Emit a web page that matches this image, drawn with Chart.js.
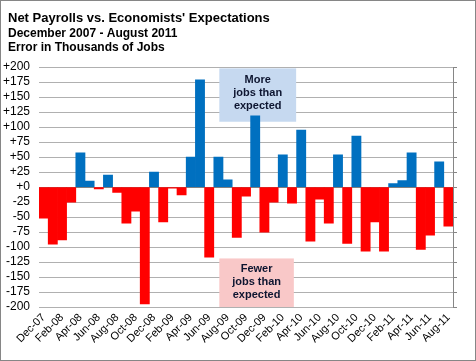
<!DOCTYPE html>
<html><head><meta charset="utf-8">
<script src="https://cdn.jsdelivr.net/npm/chart.js@4.4.1/dist/chart.umd.min.js"></script>
<style>html,body{margin:0;padding:0;background:#fff}#wrap{width:476px;height:361px;position:relative}</style>
</head><body><div id="wrap"><canvas id="c" width="476" height="361"></canvas></div>
<script>
const months = ["Dec-07","Jan-08","Feb-08","Mar-08","Apr-08","May-08","Jun-08","Jul-08","Aug-08","Sep-08","Oct-08","Nov-08",
"Dec-08","Jan-09","Feb-09","Mar-09","Apr-09","May-09","Jun-09","Jul-09","Aug-09","Sep-09","Oct-09","Nov-09",
"Dec-09","Jan-10","Feb-10","Mar-10","Apr-10","May-10","Jun-10","Jul-10","Aug-10","Sep-10","Oct-10","Nov-10",
"Dec-10","Jan-11","Feb-11","Mar-11","Apr-11","May-11","Jun-11","Jul-11","Aug-11"];
const errors = [-52,-95,-88,-25,57,10,-3,20,-9,-60,-40,-195,
25,-58,-2,-13,50,179,-117,50,12,-84,-15,119,
-75,-25,54,-27,95,-90,-20,-60,54,-94,85,-107,
-58,-107,6,11,57,-104,-80,42,-65];
const yTicks = {min:-200, max:200, step:25};
const titleText = "Net Payrolls vs. Economists' Expectations";
const subtitleLines = ["December 2007 - August 2011","Error in Thousands of Jobs"];
const noteMore = ["More","jobs than","expected"];
const noteFewer = ["Fewer","jobs than","expected"];
// annotation boxes in data space: [xFrom, xTo, yFrom, yTo]
const boxMore = [19.1, 27.45, 198, 109];
const boxFewer = [19.1, 27.2, -119, -200];

const FONT = "'Liberation Sans', Arial, sans-serif";
const BLUE = '#0070C0', RED = '#FF0000';

const boxesPlugin = {
  id: 'boxes',
  afterLayout(chart) {
    chart.boxes.forEach(b => {
      if (b.position === 'top' && b.options && b.options.text !== undefined) b.left += 8;
    });
  },
  beforeDraw(chart) {
    const ctx = chart.ctx;
    ctx.save();
    ctx.fillStyle = '#fff';
    ctx.fillRect(0,0,chart.width,chart.height);
    ctx.restore();
  },
  beforeDatasetsDraw(chart) {
    const ctx = chart.ctx, xs = chart.scales.x, ys = chart.scales.y;
    ctx.save();
    const draw = (b, fill, lines, off) => {
      const x1 = xs.getPixelForValue(b[0]), x2 = xs.getPixelForValue(b[1]);
      const y1 = ys.getPixelForValue(b[2]), y2 = ys.getPixelForValue(b[3]);
      ctx.fillStyle = fill;
      ctx.fillRect(x1, y1, x2 - x1, y2 - y1);
      ctx.fillStyle = '#0d1530';
      ctx.font = 'bold 11px ' + FONT;
      ctx.textAlign = 'center';
      ctx.textBaseline = 'middle';
      const cx = (x1 + x2) / 2, cy = (y1 + y2) / 2 + off;
      const lh = 13;
      lines.forEach((t, i) => ctx.fillText(t, cx, cy + (i - 1) * lh));
    };
    draw(boxMore, '#C6D9F0', noteMore, -2);
    draw(boxFewer, '#F9C8C8', noteFewer, -1);
    ctx.restore();
  },
  afterDraw(chart) {
    const ctx = chart.ctx;
    ctx.save();
    ctx.strokeStyle = '#868686';
    ctx.lineWidth = 1;
    ctx.strokeRect(0.5, 0.5, chart.width - 1, chart.height - 1);
    ctx.restore();
  }
};

new Chart(document.getElementById('c'), {
  type: 'bar',
  data: {
    labels: months,
    datasets: [{
      data: errors,
      backgroundColor: errors.map(v => v >= 0 ? BLUE : RED),
      borderWidth: 0,
      barPercentage: 1.0,
      categoryPercentage: 1.0
    }]
  },
  options: {
    responsive: false,
    animation: false,
    events: [],
    layout: { padding: { left: 0, right: 0, top: 10.5, bottom: 0 } },
    plugins: {
      legend: { display: false },
      tooltip: { enabled: false },
      title: {
        display: true, text: titleText, align: 'start', color: '#000',
        font: { family: FONT, size: 13, weight: 'bold', lineHeight: 1.2 },
        padding: { top: 0, bottom: 0 }
      },
      subtitle: {
        display: true, text: subtitleLines, align: 'start', color: '#000',
        font: { family: FONT, size: 12, weight: 'bold', lineHeight: 1.17 },
        padding: { top: 1, bottom: 12 }
      }
    },
    scales: {
      x: {
        grid: { display: false, drawTicks: false },
        border: { display: false },
        ticks: {
          autoSkip: false, maxRotation: 45, minRotation: 45, padding: 4,
          color: '#000', font: { family: FONT, size: 11 },
          callback: (v, i) => i % 2 === 0 ? months[i] : ''
        },
        afterFit(s) { s.height = 54; }
      },
      y: {
        min: yTicks.min, max: yTicks.max,
        grid: {
          drawTicks: false,
          color: c => c.tick && c.tick.value === 0 ? '#7f7f7f' : '#b0b0b0'
        },
        border: { display: false },
        ticks: {
          stepSize: yTicks.step, autoSkip: false, padding: 9, color: '#000',
          font: { family: FONT, size: 12 },
          callback: v => v >= 0 ? '+' + v : String(v)
        },
        afterFit(s) { s.width = 39; }
      },
      y2: {
        position: 'right',
        min: yTicks.min, max: yTicks.max,
        grid: { drawOnChartArea: false, drawTicks: true, tickLength: 4, color: '#868686' },
        border: { display: true, color: '#868686' },
        ticks: { stepSize: yTicks.step, autoSkip: false, callback: () => '', padding: 0 },
        afterFit(s) { s.width = 23; }
      }
    }
  },
  plugins: [boxesPlugin]
});
</script></body></html>
